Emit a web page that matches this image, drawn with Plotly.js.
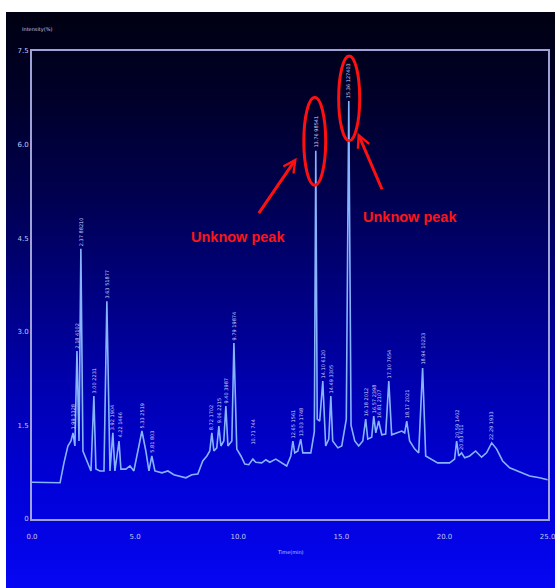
<!DOCTYPE html>
<html>
<head>
<meta charset="utf-8">
<script src="https://cdn.plot.ly/plotly-3.0.1.min.js"></script>
<style>
  html, body { margin: 0; padding: 0; background: #ffffff; }
  #wrap { position: relative; width: 555px; height: 588px; overflow: hidden; background: #ffffff; }
  #bg { position: absolute; left: 6px; top: 12px; width: 549px; height: 576px;
        background: linear-gradient(to bottom, #000012 0%, #00002a 15%, #000050 32%, #00007e 48%, #0000b0 65%, #0000d8 82%, #0606f2 100%); }
  #chart { position: absolute; left: 0; top: 0; width: 555px; height: 588px; }
</style>
</head>
<body>
<div id="wrap"><div id="bg"></div><div id="chart"></div></div>
<script>
// ---- Chromatogram trace (time in min, intensity) ----
const timeMin = [0.00,0.63,1.26,1.36,1.55,1.74,1.89,1.99,2.08,2.18,2.28,2.37,2.47,2.62,2.76,2.86,3.00,3.10,3.29,3.49,3.63,3.78,3.92,4.02,4.22,4.31,4.55,4.75,4.94,5.14,5.33,5.52,5.67,5.81,5.96,6.30,6.59,6.88,7.17,7.46,7.75,8.04,8.28,8.48,8.62,8.72,8.82,8.96,9.06,9.16,9.30,9.40,9.50,9.69,9.79,9.93,10.13,10.32,10.51,10.71,10.85,11.14,11.34,11.53,11.82,12.11,12.35,12.55,12.65,12.74,12.89,13.03,13.13,13.32,13.52,13.69,13.76,13.83,13.95,14.10,14.24,14.39,14.49,14.58,14.83,15.02,15.24,15.36,15.47,15.65,15.84,16.04,16.18,16.28,16.47,16.57,16.67,16.81,16.96,17.15,17.30,17.44,17.68,17.93,18.07,18.17,18.31,18.56,18.75,18.94,19.09,19.38,19.67,19.96,20.25,20.49,20.59,20.69,20.83,20.98,21.22,21.51,21.80,22.04,22.29,22.53,22.82,23.16,23.64,24.13,24.61,25.00];
const intensity = [0.59,0.59,0.58,0.58,0.90,1.17,1.25,1.38,1.17,2.69,1.25,4.33,1.09,0.96,0.83,0.77,1.97,0.80,0.77,0.77,3.49,0.77,1.38,0.77,1.25,0.80,0.80,0.85,0.77,1.09,1.41,1.09,0.77,1.01,0.77,0.74,0.77,0.71,0.69,0.66,0.71,0.72,0.93,1.01,1.09,1.38,1.09,1.14,1.49,1.17,1.25,1.81,1.17,1.25,2.82,1.12,1.01,0.88,0.87,0.96,0.91,0.90,0.95,0.91,0.96,0.90,0.85,1.01,1.25,1.06,1.09,1.28,1.06,1.06,1.06,1.40,5.90,1.60,1.57,2.21,1.17,1.28,1.97,1.25,1.14,1.17,1.60,6.70,1.50,1.25,1.17,1.25,1.60,1.28,1.31,1.65,1.38,1.57,1.35,1.36,2.21,1.35,1.38,1.41,1.38,1.57,1.25,1.12,1.06,2.42,1.01,0.96,0.90,0.90,0.90,0.96,1.25,1.01,1.06,0.98,1.01,1.09,0.99,1.06,1.22,1.12,0.93,0.82,0.75,0.69,0.66,0.63];

// ---- Peak labels (retention times written above the peaks) ----
const peakTimes  = [1.99,2.18,2.37,3.00,3.63,3.92,4.22,5.33,5.81,8.72,9.06,9.40,9.79,10.71,12.65,13.03,13.76,14.10,14.49,15.36,16.18,16.57,16.81,17.30,18.17,18.94,20.59,20.83,22.29];
const peakHeights= [1.38,2.69,4.33,1.97,3.49,1.38,1.25,1.41,1.01,1.38,1.49,1.81,2.82,1.15,1.25,1.28,5.90,2.21,1.97,6.70,1.60,1.65,1.57,2.21,1.57,2.42,1.25,1.06,1.22];
const peakLabels = ["1.99 1328","2.18 4102","2.37 88210","3.00 2231","3.63 51877","3.92 1904","4.22 1466","5.33 2519","5.81 803","8.72 1702","9.06 2215","9.40 3987","9.79 19874","10.71 744","12.65 1561","13.03 1748","13.76 98541","14.10 6120","14.49 3305","15.36 127403","16.18 2012","16.57 2398","16.81 2107","17.30 7654","18.17 2021","18.94 10233","20.59 1402","20.83 611","22.29 1933"];

// ---- Axis ticks ----
const xTickVals = [0,5,10,15,20,25];
const xTickText = ["0.0","5.0","10.0","15.0","20.0","25.0"];
const yTickVals = [0,1.5,3.0,4.5,6.0,7.5];
const yTickText = ["0","1.5","3.0","4.5","6.0","7.5"];

// ---- Callouts ----
const calloutText = "Unknow peak";
const ellipses = [ {x0:13.18,x1:14.24,y0:5.35,y1:6.76}, {x0:14.87,x1:15.89,y0:6.06,y1:7.42} ];

const axisColor = "#9ea2d6";
const tickFont = {family:"DejaVu Sans", size:7, color:"#c4c6ec"};
const redFont = {family: "Liberation Sans, Arial", size: 14.5, color: "#ff1414", weight: "bold"};

const traces = [{
  x: timeMin, y: intensity, type: "scatter", mode: "lines",
  line: {color: "#86b4ff", width: 1.6, shape: "linear"},
  hoverinfo: "skip", showlegend: false
}];

const annotations = peakTimes.map((t,i) => ({
  x: t, y: peakHeights[i], xref: "x", yref: "y",
  text: peakLabels[i], showarrow: false, textangle: -90,
  xanchor: "center", yanchor: "bottom", yshift: 1,
  font: {family: "DejaVu Sans", size: 5, color: "#cfd6ff"}
}));

annotations.push(
  {x: 12.84, y: 5.79, xref: "x", yref: "y", ax: -39, ay: 57, text: "", showarrow: true,
   arrowcolor: "#ff1010", arrowwidth: 3, arrowhead: 5, arrowsize: 0.8},
  {x: 15.79, y: 6.19, xref: "x", yref: "y", ax: 25, ay: 58, text: "", showarrow: true,
   arrowcolor: "#ff1010", arrowwidth: 3, arrowhead: 5, arrowsize: 0.8},
  {x: 9.98, y: 4.52, xref: "x", yref: "y", text: calloutText, showarrow: false, font: redFont},
  {x: 18.31, y: 4.84, xref: "x", yref: "y", text: calloutText, showarrow: false, font: redFont},
  {x: 0, y: 1, xref: "paper", yref: "paper", xanchor: "left", yanchor: "bottom", xshift: -12, yshift: 16,
   text: "Intensity(%)", showarrow: false, font: {family: "DejaVu Sans", size: 5, color: "#c4c6ec"}},
  {x: 0.5, y: 0, xref: "paper", yref: "paper", xanchor: "center", yanchor: "top", yshift: -28,
   text: "Time(min)", showarrow: false, font: {family: "DejaVu Sans", size: 5, color: "#c4c6ec"}}
);

const shapes = ellipses.map(e => ({
  type: "circle", xref: "x", yref: "y", x0: e.x0, x1: e.x1, y0: e.y0, y1: e.y1,
  line: {color: "#ff1010", width: 3}
}));

const layout = {
  width: 555, height: 588,
  margin: {l: 32, r: 7, t: 51, b: 69},
  paper_bgcolor: "rgba(0,0,0,0)", plot_bgcolor: "rgba(0,0,0,0)",
  showlegend: false,
  xaxis: {range: [0,25.02], tickvals: xTickVals, ticktext: xTickText, showgrid: false, zeroline: false,
          showline: true, mirror: true, linecolor: axisColor, linewidth: 2, ticks: "", ticklen: 0,
          ticklabelstandoff: 10, ticklabeloverflow: "allow", tickfont: tickFont, fixedrange: true},
  yaxis: {range: [0,7.5], tickvals: yTickVals, ticktext: yTickText, showgrid: false, zeroline: false,
          showline: true, mirror: true, linecolor: axisColor, linewidth: 2, ticks: "", ticklen: 0,
          tickfont: tickFont, fixedrange: true},
  annotations: annotations,
  shapes: shapes
};

Plotly.newPlot("chart", traces, layout, {displayModeBar: false, staticPlot: true});
</script>
</body>
</html>
